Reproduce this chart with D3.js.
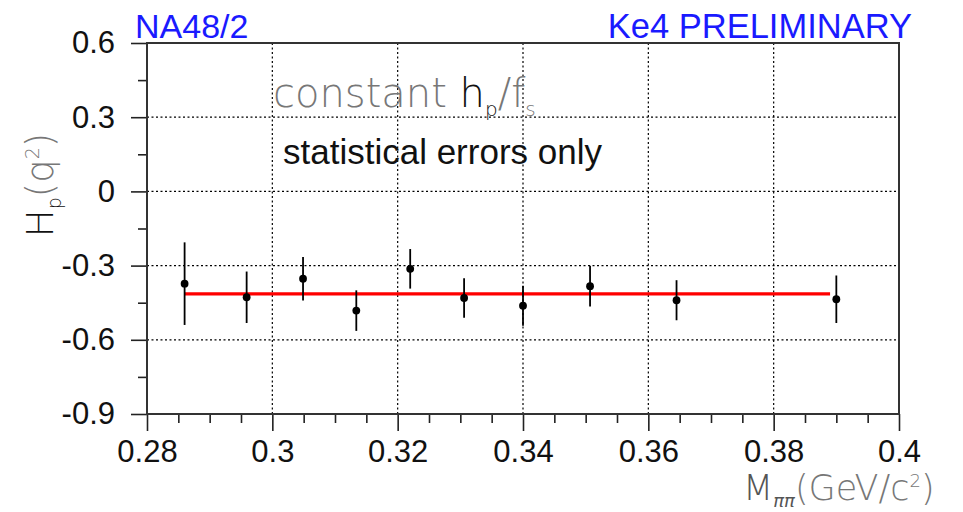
<!DOCTYPE html>
<html>
<head>
<meta charset="utf-8">
<script src="https://cdn.jsdelivr.net/npm/d3@7"></script>
<style>
  html, body { margin: 0; padding: 0; background: #fff; overflow: hidden; }
  svg { display: block; }
</style>
</head>
<body>
<svg id="chart" width="963" height="512"></svg>
<script>
// ---- data ----
const massValues = [0.2860, 0.2959, 0.3049, 0.3134, 0.3220, 0.3306, 0.3400, 0.3507, 0.3645, 0.3900];
const hpValues   = [-0.373, -0.428, -0.353, -0.482, -0.313, -0.431, -0.462, -0.383, -0.440, -0.436];
const hpErrors   = [0.167, 0.104, 0.088, 0.082, 0.080, 0.080, 0.081, 0.082, 0.081, 0.096];
const fitValue   = -0.414;
const fitRange   = [0.2860, 0.3890];
const xTicks     = [0.28, 0.30, 0.32, 0.34, 0.36, 0.38, 0.40];
const xTickLabels= ["0.28", "0.3", "0.32", "0.34", "0.36", "0.38", "0.4"];
const xMinorTicks= [0.285,0.29,0.295, 0.305,0.31,0.315, 0.325,0.33,0.335, 0.345,0.35,0.355, 0.365,0.37,0.375, 0.385,0.39,0.395];
const yTicks     = [-0.9, -0.6, -0.3, 0, 0.3, 0.6];
const yTickLabels= ["-0.9", "-0.6", "-0.3", "0", "0.3", "0.6"];
const yMinorTicks= [-0.75, -0.45, -0.15, 0.15, 0.45];

// ---- layout ----
const svg = d3.select("#chart");
const L = 147, R = 899, T = 43, B = 414;
const x = d3.scaleLinear().domain([0.28, 0.40]).range([L, R]);
const y = d3.scaleLinear().domain([-0.9, 0.6]).range([B, T]);
const tickFont = "'Liberation Sans', Arial, sans-serif";
const lightFont = "'DejaVu Sans', sans-serif";

// grid
const grid = svg.append("g").attr("stroke", "#000").attr("stroke-width", 1.2).attr("stroke-dasharray", "2,2.5");
grid.selectAll("line.v").data(xTicks.slice(1, -1)).enter().append("line")
  .attr("x1", d => x(d)).attr("x2", d => x(d)).attr("y1", T).attr("y2", B);
grid.selectAll("line.h").data(yTicks.slice(1, -1)).enter().append("line")
  .attr("x1", L).attr("x2", R).attr("y1", d => y(d)).attr("y2", d => y(d));

// axes
const xAxis = d3.axisBottom(x).tickValues(xTicks).tickSize(17).tickSizeOuter(0).tickPadding(9)
  .tickFormat((d, i) => xTickLabels[i]);
const gx = svg.append("g").attr("transform", `translate(0,${B})`).call(xAxis);
const xAxisMinor = d3.axisBottom(x).tickValues(xMinorTicks).tickSize(9).tickSizeOuter(0).tickFormat("");
const gxm = svg.append("g").attr("transform", `translate(0,${B})`).call(xAxisMinor);

const yAxis = d3.axisLeft(y).tickValues(yTicks).tickSize(16).tickSizeOuter(0).tickPadding(16)
  .tickFormat((d, i) => yTickLabels[i]);
const gy = svg.append("g").attr("transform", `translate(${L},0)`).call(yAxis);
const yAxisMinor = d3.axisLeft(y).tickValues(yMinorTicks).tickSize(9).tickSizeOuter(0).tickFormat("");
const gym = svg.append("g").attr("transform", `translate(${L},0)`).call(yAxisMinor);

[gx, gxm, gy, gym].forEach(g => {
  g.select(".domain").remove();
  g.selectAll(".tick line").attr("stroke", "#222").attr("stroke-width", 1.6);
  g.selectAll(".tick text").attr("font-family", tickFont).attr("font-size", 31).attr("fill", "#111");
});

// frame
svg.append("rect").attr("x", L).attr("y", T).attr("width", R - L).attr("height", B - T)
  .attr("fill", "none").attr("stroke", "#333").attr("stroke-width", 2);

// fit line
svg.append("line")
  .attr("x1", x(fitRange[0])).attr("x2", x(fitRange[1]))
  .attr("y1", y(fitValue)).attr("y2", y(fitValue))
  .attr("stroke", "#ff0000").attr("stroke-width", 3.2);

// error bars and points
const pts = massValues.map((m, i) => ({m, v: hpValues[i], e: hpErrors[i]}));
svg.append("g").selectAll("line").data(pts).enter().append("line")
  .attr("x1", d => x(d.m)).attr("x2", d => x(d.m))
  .attr("y1", d => y(d.v + d.e)).attr("y2", d => y(d.v - d.e))
  .attr("stroke", "#000").attr("stroke-width", 1.8);
svg.append("g").selectAll("circle").data(pts).enter().append("circle")
  .attr("cx", d => x(d.m)).attr("cy", d => y(d.v)).attr("r", 3.9).attr("fill", "#000");

// titles
svg.append("text").attr("x", 135).attr("y", 38).attr("font-family", tickFont).attr("font-size", 34)
  .attr("fill", "#1a1aff").text("NA48/2");
svg.append("text").attr("x", 912).attr("y", 38).attr("text-anchor", "end").attr("font-family", tickFont)
  .attr("font-size", 34.5).attr("fill", "#1a1aff").text("Ke4 PRELIMINARY");

// annotations
const c = svg.append("text").attr("x", 273).attr("y", 107).attr("font-family", lightFont)
  .attr("font-weight", 200).attr("font-size", 40).attr("fill", "#777");
c.append("tspan").text("constant ");
c.append("tspan").attr("fill", "#111").text("h");
c.append("tspan").attr("dy", 9).attr("font-size", 20).attr("fill", "#111").text("p");
c.append("tspan").attr("dy", -9).text("/f");
c.append("tspan").attr("dy", 9).attr("font-size", 20).text("s");

svg.append("text").attr("x", 283).attr("y", 164).attr("font-family", tickFont).attr("font-size", 35)
  .attr("fill", "#111").text("statistical errors only");

// y label
const yl = svg.append("text").attr("transform", "translate(53,185) rotate(-90)")
  .attr("text-anchor", "middle").attr("font-family", lightFont).attr("font-weight", 200)
  .attr("font-size", 37).attr("fill", "#111");
yl.append("tspan").text("H");
yl.append("tspan").attr("dy", 8).attr("font-size", 19).text("p");
yl.append("tspan").attr("dy", -8).attr("fill", "#777").text("(q");
yl.append("tspan").attr("dy", -14).attr("font-size", 19).attr("fill", "#777").text("2");
yl.append("tspan").attr("dy", 14).attr("fill", "#777").text(")");

// x label
const xl = svg.append("text").attr("x", 743).attr("y", 500).attr("font-family", lightFont)
  .attr("font-weight", 200).attr("font-size", 35).attr("fill", "#555");
xl.append("tspan").text("M");
xl.append("tspan").attr("dy", 7).attr("font-size", 18).attr("font-style", "italic").text("ππ");
xl.append("tspan").attr("dy", -7).attr("fill", "#777").text("(GeV/c");
xl.append("tspan").attr("dy", -13).attr("font-size", 18).attr("fill", "#777").text("2");
xl.append("tspan").attr("dy", 13).attr("fill", "#777").text(")");
</script>
</body>
</html>
